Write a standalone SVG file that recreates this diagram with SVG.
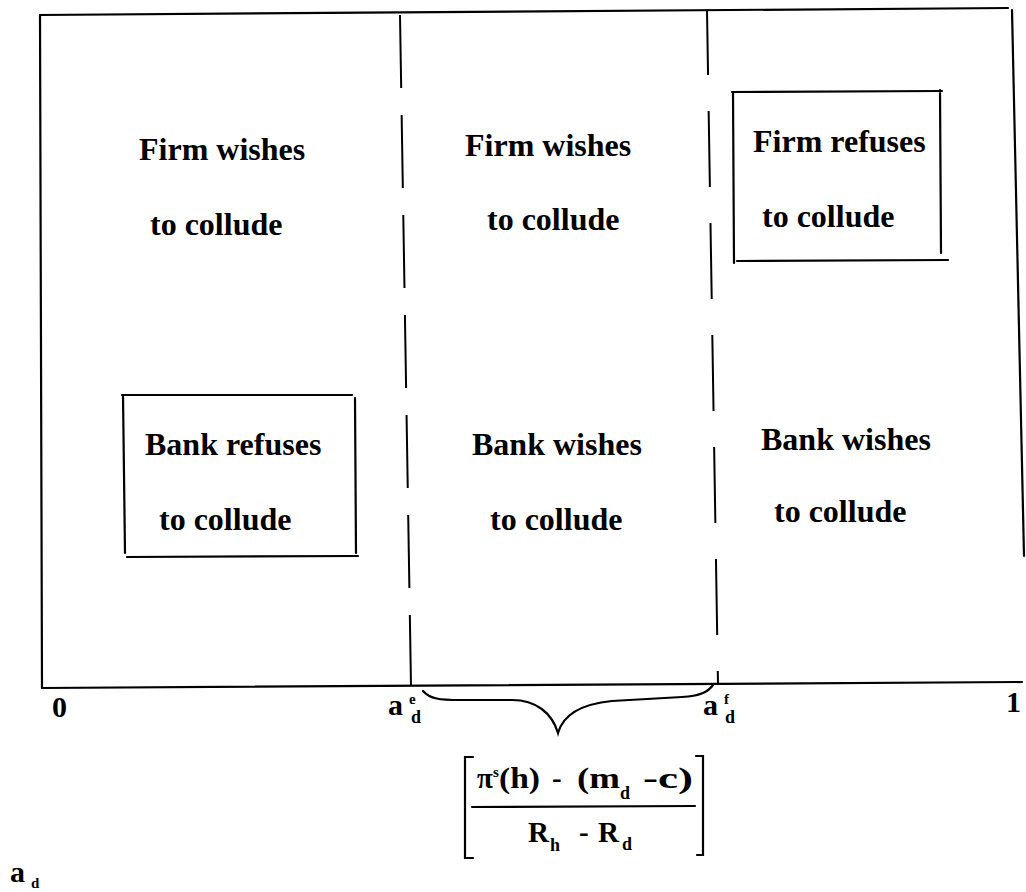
<svg xmlns="http://www.w3.org/2000/svg" width="1026" height="892" viewBox="0 0 1026 892">
<style>
.ln{stroke:#000;stroke-width:2.2;fill:none;stroke-linecap:round}
.d1{stroke:#000;stroke-width:2;fill:none;stroke-dasharray:73 27}
.d2{stroke:#000;stroke-width:2;fill:none;stroke-dasharray:76 36;stroke-dashoffset:11}
.t{font-family:"Liberation Serif","Times New Roman",serif;font-weight:bold;font-size:32px;fill:#000}
.n{font-family:"Liberation Serif","Times New Roman",serif;font-weight:bold;font-size:30px;fill:#000}
.m{font-family:"Liberation Serif","Times New Roman",serif;font-weight:bold;font-size:29px;fill:#000}
.s{font-family:"Liberation Serif","Times New Roman",serif;font-weight:bold;font-size:18px;fill:#000}
.ss{font-family:"Liberation Serif","Times New Roman",serif;font-weight:bold;font-size:15px;fill:#000}
</style>
<rect width="1026" height="892" fill="#fff"/>
<g id="frame">
<path class="ln" d="M40,15 L1008,8"/>
<path class="ln" d="M40,15 L42,688"/>
<path class="ln" d="M1012,10 L1024,556"/>
<path class="ln" d="M42,688 L1022,682"/>
</g>
<g id="connectors">
<path class="d1" d="M400,15 L411,686"/>
<path class="d2" d="M707,10 L718,684"/>
</g>
<g id="firm-low">
<text class="t" x="139" y="160">Firm wishes</text>
<text class="t" x="150" y="235">to collude</text>
</g>
<g id="firm-mid">
<text class="t" x="465" y="156">Firm wishes</text>
<text class="t" x="487" y="230">to collude</text>
</g>
<g id="firm-high">
<path class="ln" d="M732,92 L942,91 M733,92 L734,263 M737,261 L948,260 M940,90 L941,253"/>
<text class="t" x="753" y="152">Firm refuses</text>
<text class="t" x="762" y="227">to collude</text>
</g>
<g id="bank-low">
<path class="ln" d="M122,395 L352,395 M123,395 L125,553 M127,557 L358,556 M355,398 L356,553"/>
<text class="t" x="145" y="455">Bank refuses</text>
<text class="t" x="159" y="530">to collude</text>
</g>
<g id="bank-mid">
<text class="t" x="472" y="455">Bank wishes</text>
<text class="t" x="490" y="530">to collude</text>
</g>
<g id="bank-high">
<text class="t" x="761" y="450">Bank wishes</text>
<text class="t" x="774" y="522">to collude</text>
</g>
<g id="axis-labels">
<text class="n" x="52" y="717">0</text>
<text class="n" x="1006" y="712">1</text>
<text class="n" x="388" y="715">a</text><text class="ss" x="409" y="704">e</text><text class="s" x="411" y="723">d</text>
<text class="n" x="703" y="715">a</text><text class="ss" x="724" y="704">f</text><text class="s" x="725" y="723">d</text>
<text class="n" x="10" y="882">a</text><text class="ss" x="31" y="888">d</text>
</g>
<g id="brace">
<path class="ln" d="M423,691 C430,699 440,700 460,700 L512,700 C536,700 552,713 558,733 C563,715 582,704 612,701 L682,697 C700,696 708,692 713,685"/>
</g>
<g id="formula">
<path class="ln" d="M473,757 L465,757 L465,858 L473,858 M696,756 L703,756 L703,855 L697,855"/>
<path class="ln" d="M472,807 L695,806"/>
<text class="m" x="477" y="788">π</text><text class="ss" x="493" y="777">s</text>
<text class="m" x="499" y="788" textLength="41" lengthAdjust="spacingAndGlyphs">(h)</text>
<text class="m" x="552" y="788">-</text>
<text class="m" x="577" y="788" textLength="43" lengthAdjust="spacingAndGlyphs">(m</text><text class="s" x="620" y="799">d</text>
<text class="m" x="643" y="788" textLength="50" lengthAdjust="spacingAndGlyphs">-c)</text>
<text class="m" x="528" y="842">R</text><text class="s" x="550" y="851">h</text>
<text class="m" x="579" y="842">-</text>
<text class="m" x="598" y="842">R</text><text class="s" x="622" y="850">d</text>
</g>
</svg>
